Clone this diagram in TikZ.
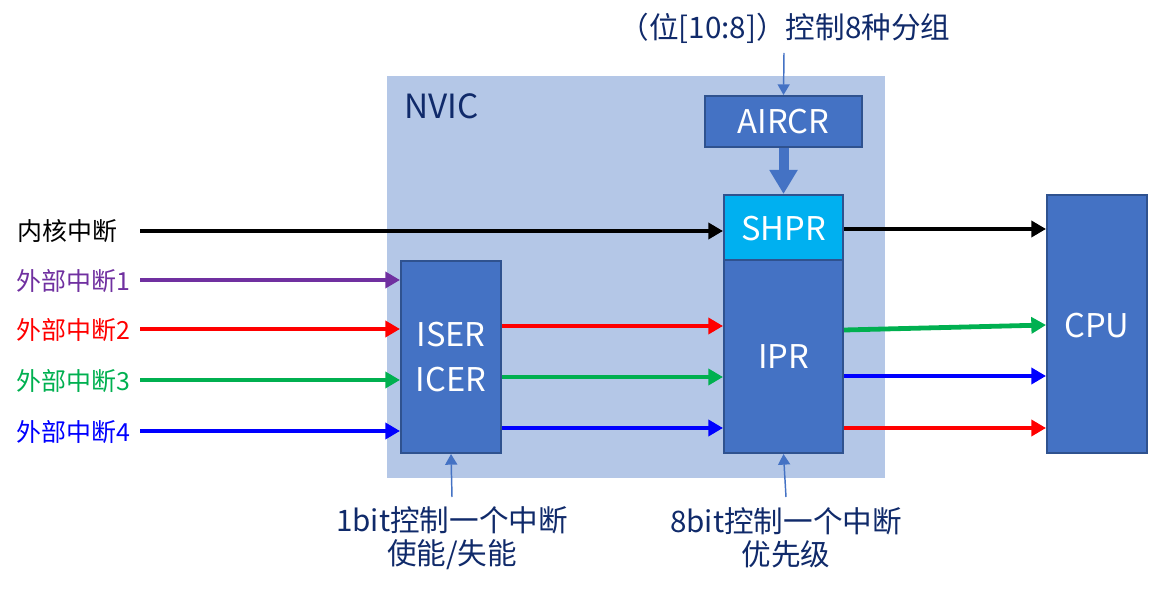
\documentclass[tikz,border=0pt]{standalone}
\usepackage{fontspec}
\setmainfont{Noto Sans CJK SC}
\usetikzlibrary{arrows.meta,fit,calc}
\definecolor{navy}{HTML}{102A6A}
\definecolor{nvicbg}{HTML}{B4C7E7}
\definecolor{boxblue}{HTML}{4472C4}
\definecolor{boxedge}{HTML}{2F528F}
\definecolor{shprc}{HTML}{00B0F0}
\definecolor{cpurple}{HTML}{7030A0}
\definecolor{cred}{HTML}{FF0000}
\definecolor{cgreen}{HTML}{00B050}
\definecolor{cblue}{HTML}{0000FF}
\tikzset{
  bgbox/.style={fill=nvicbg, draw=none, inner sep=0pt},
  regbox/.style={fill=boxblue, draw=boxedge, line width=1.5pt, inner sep=0pt},
  boxtxt/.style={text=white, inner sep=0pt, align=center, font=\fontsize{24.5}{33.4}\selectfont},
  sigarrow/.style={line width=3.6pt, -{Triangle[length=11pt,width=12pt]}},
  thinarrow/.style={draw=boxblue, line width=1.1pt, -{Triangle[length=8pt,width=9pt]}},
  fatarrow/.style={draw=boxblue, line width=7.5pt, -{Triangle[length=18pt,width=20pt]}},
  sidelbl/.style={anchor=west, inner sep=0pt, font=\fontsize{18.7}{22}\selectfont},
  note/.style={text=navy, align=center, inner sep=0pt, font=\fontsize{22.2}{25}\selectfont},
}
\begin{document}
\begin{tikzpicture}[x=0.75pt,y=-0.75pt]
\useasboundingbox (0,0) rectangle (1153,591);
% NVIC background
\node[bgbox, fit={(387,76) (885,478)}] (nvic) {};
\node[text=navy, anchor=west, inner sep=0pt, font=\fontsize{25}{28}\selectfont] (nviclbl) at (404,106.5) {NVIC};
% registers
\node[regbox, fit={(705,96) (862,147)}] (aircr) {};
\node[regbox, fill=shprc, fit={(724,195) (843,260)}] (shpr) {};
\node[regbox, fit={(724,260) (843,453)}] (ipr) {};
\node[regbox, fit={(401,261) (501,453)}] (iser) {};
\node[regbox, fit={(1047,195) (1147,453)}] (cpu) {};
\node[boxtxt] (aircrt) at (aircr.center) {AIRCR};
\node[boxtxt] (shprt) at ([yshift=-1]shpr.center) {SHPR};
\node[boxtxt] (iprt) at (ipr.center) {IPR};
\node[boxtxt] (isert) at (iser.center) {ISER\\ICER};
\node[boxtxt] (cput) at ([yshift=-1]cpu.center) {CPU};
% notes
\node[note] (topnote) at (785,28) {（位[10:8]）控制8种分组};
\node[note] (note1) at (452,538) {1bit控制一个中断\\使能/失能};
\node[note] (note2) at (786,538) {8bit控制一个中断\\优先级};
% side labels
\node[sidelbl, text=black] (l0) at (17,231) {内核中断};
\node[sidelbl, text=cpurple] (l1) at (16,281) {外部中断1};
\node[sidelbl, text=cred] (l2) at (16,330) {外部中断2};
\node[sidelbl, text=cgreen] (l3) at (16,381) {外部中断3};
\node[sidelbl, text=cblue] (l4) at (16,432) {外部中断4};
% signal start points
\coordinate (s0) at (140,231);
\coordinate (s1) at (140,280);
\coordinate (s2) at (140,329);
\coordinate (s3) at (140,380);
\coordinate (s4) at (140,431);
\coordinate (t0) at (784,53);
\coordinate (b1) at (452,497);
\coordinate (b2) at (786,497);
% input arrows
\draw[sigarrow, black] (s0) -- (shpr.west |- s0);
\draw[sigarrow, cpurple] (s1) -- (iser.west |- s1);
\draw[sigarrow, cred] (s2) -- (iser.west |- s2);
\draw[sigarrow, cgreen] (s3) -- (iser.west |- s3);
\draw[sigarrow, cblue] (s4) -- (iser.west |- s4);
% ISER -> IPR
\draw[sigarrow, cred] (iser.east |- 0,326) -- (ipr.west |- 0,326);
\draw[sigarrow, cgreen] (iser.east |- 0,377) -- (ipr.west |- 0,377);
\draw[sigarrow, cblue] (iser.east |- 0,428) -- (ipr.west |- 0,428);
% to CPU
\draw[sigarrow, black] (shpr.east |- 0,229) -- (cpu.west |- 0,229);
\draw[sigarrow, cgreen] (ipr.east |- 0,330) -- (cpu.west |- 0,325);
\draw[sigarrow, cblue] (ipr.east |- 0,376) -- (cpu.west |- 0,376);
\draw[sigarrow, cred] (ipr.east |- 0,428) -- (cpu.west |- 0,428);
% control arrows
\draw[thinarrow] (t0) -- (aircr.north);
\draw[fatarrow] (aircr.south) -- (shpr.north);
\draw[thinarrow] (b1) -- (iser.south);
\draw[thinarrow] (b2) -- (ipr.south);
\end{tikzpicture}
\end{document}
